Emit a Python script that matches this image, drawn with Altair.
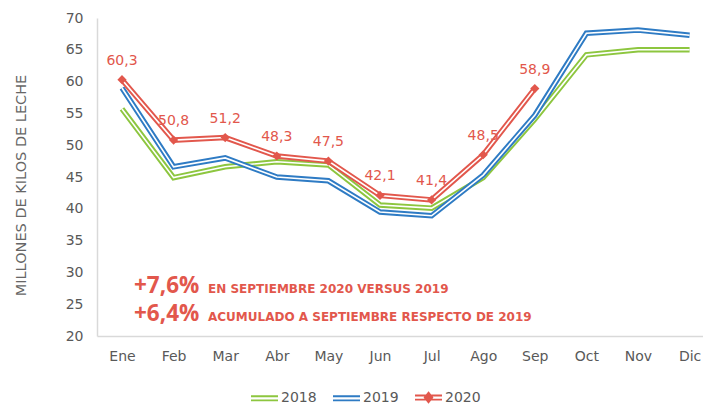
import altair as alt
import pandas as pd

months = ["Ene", "Feb", "Mar", "Abr", "May", "Jun", "Jul", "Ago", "Sep", "Oct", "Nov", "Dic"]
years = ["2018", "2019", "2020"]
v2018 = [55.7, 44.9, 46.6, 47.4, 46.9, 40.6, 40.1, 44.9, 54.1, 64.2, 65.0, 65.0]
v2019 = [59.0, 46.6, 48.0, 45.0, 44.4, 39.5, 38.9, 45.3, 54.7, 67.6, 68.1, 67.3]
v2020 = [60.3, 50.8, 51.2, 48.3, 47.5, 42.1, 41.4, 48.5, 58.9]
colors = ["#8DC63F", "#2E7BC4", "#E2574C"]
y_title = "MILLONES DE KILOS DE LECHE"
ann_big = ["+7,6%", "+6,4%"]
ann_small = ["EN SEPTIEMBRE 2020 VERSUS 2019", "ACUMULADO A SEPTIEMBRE RESPECTO DE 2019"]

rows = []
for s, vals in zip(years, [v2018, v2019, v2020]):
    for i, v in enumerate(vals):
        rows.append({"series": s, "idx": i, "month": months[i], "value": v})
df = pd.DataFrame(rows)

GRAY = "#595959"
AX = "#D9D9D9"
FONT = "DejaVu Sans"
label_expr = "[" + ",".join("'%s'" % m for m in months) + "][datum.value]"

x_enc = alt.X("idx:Q",
              scale=alt.Scale(domain=[-0.4845, 11.26], nice=False, zero=False),
              axis=alt.Axis(values=list(range(12)), labelExpr=label_expr, title=None,
                            ticks=False, grid=False, domainColor=AX, domainWidth=1.5,
                            labelPadding=13, labelFontSize=14, labelColor=GRAY, labelFont=FONT))
y_enc = alt.Y("value:Q",
              scale=alt.Scale(domain=[20, 70], nice=False, zero=False),
              axis=alt.Axis(values=list(range(20, 71, 5)), title=y_title, ticks=False, grid=False,
                            domainColor=AX, domainWidth=1.5, labelPadding=14, labelFontSize=14,
                            labelColor=GRAY, labelFont=FONT, titleFont=FONT, titleFontSize=14.5,
                            titleFontWeight="normal", titleColor="#666666", titleX=-76, titleY=167,
                            titleAngle=270, titleAlign="center", titleBaseline="middle"))

base = alt.Chart(df).encode(x=x_enc, y=y_enc)

layers = []
for s, c in zip(years, colors):
    sub = base.transform_filter(alt.datum.series == s)
    layers.append(sub.mark_line(color=c, strokeWidth=5.5, strokeJoin="miter"))
    layers.append(sub.mark_line(color="white", strokeWidth=1.6, strokeJoin="miter"))

red = colors[2]
pts = base.transform_filter(alt.datum.series == "2020").mark_point(
    shape="diamond", filled=True, size=85, color=red, opacity=1)
labels = base.transform_filter(alt.datum.series == "2020").transform_calculate(
    label="replace(format(datum.value, '.1f'), '.', ',')"
).mark_text(dy=-19, fontSize=14, color=red, font=FONT).encode(text="label:N")

dbl = "M-1,-0.15H1M-1,0.15H1"
star = dbl + "M0,-0.36L0.28,0L0,0.36L-0.28,0Z"
leg = alt.Legend(orient="none", legendX=153, legendY=365, direction="horizontal", title=None,
                 labelFontSize=14, labelColor=GRAY, labelFont=FONT, symbolSize=729,
                 symbolStrokeWidth=1.8, columnPadding=12, labelOffset=2, symbolOpacity=1)
legend_layer = base.transform_filter("false").mark_point(opacity=1, strokeWidth=1.8).encode(
    stroke=alt.Stroke("series:N", scale=alt.Scale(domain=years, range=colors), legend=leg),
    fill=alt.Fill("series:N", scale=alt.Scale(domain=years, range=colors), legend=leg),
    shape=alt.Shape("series:N", scale=alt.Scale(domain=years, range=[dbl, dbl, star]), legend=leg),
)

ann = []
for k, (b, sm) in enumerate(zip(ann_big, ann_small)):
    yb = 275 + 28 * k
    ann.append(alt.Chart(pd.DataFrame({"t": [b]})).mark_text(
        align="left", baseline="alphabetic", font="Open Sans", fontWeight="bold", fontSize=22.5,
        color=red).encode(text="t:N", x=alt.value(37), y=alt.value(yb)))
    ann.append(alt.Chart(pd.DataFrame({"t": [sm]})).mark_text(
        align="left", baseline="alphabetic", font=FONT, fontWeight="bold", fontSize=12,
        color=red).encode(text="t:N", x=alt.value(111), y=alt.value(yb)))

chart = alt.layer(*layers, pts, labels, legend_layer, *ann).properties(
    width=606, height=318,
    autosize=alt.AutoSizeParams(type="none"),
    padding={"left": 89, "top": 10, "right": 0, "bottom": 68},
).configure_view(stroke=None)

chart.save("out.html", embed_options={"renderer": "svg", "actions": False})
